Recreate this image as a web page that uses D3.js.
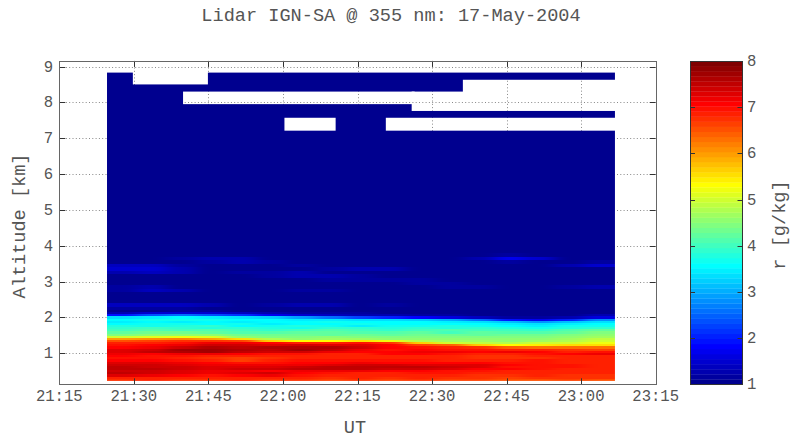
<!DOCTYPE html>
<html><head><meta charset="utf-8">
<script src="https://cdn.jsdelivr.net/npm/d3@7"></script>
<style>
html,body{margin:0;padding:0;background:#fff}
svg{display:block}
text{font-family:"Liberation Mono",monospace;fill:#555}
</style></head><body>
<svg id="chart" width="790" height="440"></svg>
<script>
const titleText = "Lidar IGN-SA @ 355 nm: 17-May-2004";
const xLabelText = "UT";
const yLabelText = "Altitude [km]";
const cLabelText = "r [g/kg]";
const timeTicks = [1275,1290,1305,1320,1335,1350,1365,1380,1395];
const timeTickLabels = ["21:15","21:30","21:45","22:00","22:15","22:30","22:45","23:00","23:15"];
const altTicks = [1,2,3,4,5,6,7,8,9];
const colorTicks = [1,2,3,4,5,6,7,8];
// column edges, minutes of the day
const timeEdges = [1284.6,1290.6,1296.6,1302.6,1308.6,1314.6,1320.6,1326.6,1332.6,1338.6,1344.6,1350.6,1356.6,1362.6,1368.6,1374.6,1380.6,1386.8];
// row edges, km, top to bottom
const altEdges = [8.83,4.2,4.1,4.0,3.9,3.8,3.7,3.6,3.5,3.4,3.3,3.2,3.1,3.0,2.9,2.8,2.7,2.6,2.5,2.4,2.3,2.21,2.15,2.09,2.03,1.97,1.91,1.85,1.79,1.73,1.67,1.61,1.55,1.49,1.43,1.37,1.31,1.25,1.19,1.13,1.07,1.01,0.95,0.89,0.83,0.77,0.71,0.65,0.59,0.53,0.47,0.41,0.35,0.29,0.23];
// mixing ratio g/kg, one row per altitude band, one column per time band
const mixingRatio = [
[1,1,1,1,1,1,1,1,1,1,1,1,1,1,1,1,1],
[1,1,1,1,1,1,1,1,1,1,1,1,1,1,1,1,1],
[1,1,1,1,1,1,1,1,1,1,1,1,1,1,1,1,1],
[1,1,1,1,1,1,1,1,1,1.1,1,1,1,1,1,1,1],
[1,1,1,1.1,1,1,1,1,1,1,1,1,1,1,1,1,1],
[1,1.1,1.1,1.1,1,1.1,1,1,1,1,1,1,1.1,1.2,1.1,1,1],
[1.1,1.1,1.2,1.3,1.3,1.1,1,1,1,1,1,1,1.3,1.7,1.5,1,1],
[1.1,1.1,1.1,1.2,1.3,1.2,1.1,1.1,1,1,1,1,1.1,1.2,1.1,1.1,1.2],
[1.4,1.4,1.2,1.1,1.1,1.1,1.2,1.1,1,1,1,1,1.1,1.1,1.1,1.3,1.5],
[1.5,1.5,1.3,1.1,1.1,1.1,1.1,1.2,1.3,1.3,1.1,1.1,1,1,1,1.1,1.1],
[1.3,1.4,1.3,1.1,1.2,1.2,1.3,1.1,1.1,1.1,1.1,1,1,1,1,1,1],
[1.1,1.1,1.1,1.1,1.1,1.2,1.3,1.3,1.2,1.1,1,1,1,1,1,1,1],
[1,1,1,1.1,1.1,1.1,1.1,1.2,1.2,1.2,1.2,1.1,1,1,1,1,1],
[1,1,1,1,1,1,1.1,1.1,1.1,1.1,1.2,1.2,1.1,1,1.1,1.1,1],
[1.2,1.3,1.1,1,1,1,1,1,1,1.1,1.1,1.2,1.2,1,1.1,1.2,1.3],
[1.2,1.4,1.3,1.1,1,1,1.2,1.2,1.1,1,1.1,1.1,1,1,1,1,1],
[1.1,1.1,1,1,1,1.1,1.1,1,1,1,1,1,1,1,1,1,1],
[1,1,1.1,1,1,1,1,1,1,1,1,1,1,1,1,1,1],
[1.1,1.1,1.1,1,1,1,1,1,1,1,1,1,1,1,1,1,1],
[1.4,1.4,1.4,1.3,1,1.2,1.3,1.3,1.1,1.2,1,1,1,1,1,1,1],
[1.2,1.2,1.2,1.1,1.1,1.1,1.1,1.1,1,1,1,1,1,1,1.1,1,1],
[1.1,1.1,1.2,1.2,1.1,1.1,1,1,1,1,1,1,1,1,1,1,1],
[1.3,1.5,1.5,1.5,1.4,1.3,1.2,1.2,1.2,1.1,1.1,1.1,1.0,1.0,1.0,1.0,1.1],
[1.9,2.4,2.6,2.4,2.1,1.7,1.5,1.4,1.3,1.3,1.2,1.2,1.1,1.1,1.1,1.1,1.3],
[3.3,3.5,3.6,3.5,3.4,3.2,2.9,2.6,2.3,2.0,1.8,1.6,1.4,1.2,1.2,1.3,1.6],
[3.6,3.7,3.7,3.7,3.6,3.6,3.5,3.5,3.4,3.3,3.2,3.0,2.6,1.9,1.7,2.0,2.8],
[3.5,3.6,3.5,3.6,3.5,3.6,3.6,3.7,3.6,3.6,3.6,3.5,3.4,3.1,2.8,3.1,3.4],
[3.6,3.7,3.7,3.6,3.7,3.5,3.6,3.6,3.7,3.6,3.6,3.6,3.6,3.5,3.4,3.5,3.6],
[3.8,3.7,3.8,3.9,3.6,3.7,3.8,3.7,3.5,3.7,3.7,3.8,3.7,3.6,3.5,3.7,3.7],
[3.9,4.0,3.9,3.8,3.9,3.8,3.7,3.9,3.9,3.8,3.9,3.8,3.9,3.8,3.7,3.8,3.9],
[4.0,4.1,4.0,4.1,4.0,3.9,4.0,4.1,4.0,3.9,4.0,4.1,4.0,4.0,3.9,4.1,4.2],
[4.2,4.3,4.3,4.2,4.1,4.1,4.2,4.2,4.1,4.1,4.2,4.0,4.2,4.1,4.1,4.2,4.4],
[4.4,4.5,4.6,4.5,4.3,4.3,4.3,4.2,4.3,4.2,4.3,4.3,4.2,4.3,4.3,4.4,4.6],
[5.0,5.1,5.2,5.1,4.6,4.4,4.4,4.5,4.4,4.4,4.4,4.4,4.4,4.4,4.4,4.6,4.7],
[6.0,6.1,6.2,6.0,5.5,4.8,4.6,4.7,4.7,4.6,4.5,4.5,4.5,4.5,4.6,4.7,4.9],
[6.5,6.6,6.7,6.7,6.6,5.6,5.3,5.3,5.5,5.2,4.8,4.7,4.7,4.6,4.7,4.8,5.0],
[6.8,6.9,7.0,7.2,7.2,7.1,6.8,6.8,7.0,6.7,5.6,5.0,4.9,4.8,5.0,5.0,5.2],
[7.0,7.1,7.2,7.4,7.4,7.3,7.4,7.3,7.3,7.1,6.6,6.4,5.7,5.3,5.4,5.5,5.5],
[7.1,7.2,7.4,7.6,7.5,7.6,7.6,7.6,7.4,7.1,7.0,6.9,6.7,6.4,6.3,6.3,6.3],
[7.3,7.4,7.7,7.7,7.6,7.5,7.7,7.5,7.2,7.0,7.1,7.0,7.0,6.9,6.8,6.7,6.6],
[7.3,7.5,7.6,7.7,7.5,7.4,7.4,7.2,7.1,7.1,7.2,7.2,7.1,7.2,7.1,6.9,7.0],
[7.2,7.1,7.2,7.2,7.1,7.0,7.0,6.9,6.9,7.1,7.1,7.0,6.9,6.9,7.0,7.1,7.2],
[7.1,7.0,7.0,6.9,6.8,6.8,6.9,6.9,6.8,6.8,6.9,6.8,6.7,6.7,6.8,6.8,6.8],
[7.0,7.0,6.9,6.7,6.6,6.7,6.8,6.9,6.9,6.9,6.8,6.8,6.7,6.7,6.7,6.8,6.8],
[7.1,7.1,7.0,6.8,6.6,6.8,7.0,7.0,7.0,7.0,7.0,6.9,6.9,6.8,7.0,6.9,6.9],
[7.3,7.3,7.2,7.1,7.0,7.0,7.1,7.1,7.2,7.1,7.1,7.1,7.1,7.0,7.0,6.9,6.9],
[7.4,7.4,7.3,7.2,7.2,7.2,7.2,7.3,7.4,7.4,7.3,7.3,7.3,7.1,7.0,7.0,6.9],
[7.5,7.4,7.4,7.3,7.3,7.3,7.4,7.5,7.5,7.5,7.5,7.4,7.3,7.0,7.0,7.0,6.9],
[7.5,7.5,7.4,7.3,7.4,7.4,7.5,7.5,7.5,7.4,7.4,7.3,7.1,7.1,7.0,6.9,6.9],
[7.4,7.4,7.3,7.2,7.2,7.1,7.2,7.2,7.2,7.1,7.1,7.0,7.0,6.9,6.9,6.9,6.8],
[7.5,7.4,7.3,7.2,7.3,7.4,7.1,7.0,6.9,6.9,7.0,7.0,6.9,6.8,6.8,6.9,6.8],
[7.3,7.2,7.1,7.0,7.1,7.2,7.0,6.8,6.8,6.8,6.9,6.8,6.7,6.7,6.8,6.7,6.7],
[6.9,6.9,6.9,6.8,6.9,6.9,6.8,6.7,6.8,6.7,6.8,6.7,6.7,6.6,6.7,6.7,6.7],
[6.7,6.8,6.7,6.7,6.8,6.7,6.7,6.6,6.7,6.6,6.7,6.6,6.6,6.5,6.5,6.6,6.5]
];
// missing-data boxes
const gapStart = [1289.8,1299.9,1320.3,1340.7,1345.9,1356.2];
const gapEnd   = [1304.9,1346.5,1330.6,1388,1388,1388];
const gapLow   = [8.50,7.95,7.21,7.21,7.76,8.2];
const gapHigh  = [8.95,8.30,7.57,7.57,8.30,8.63];

const svg = d3.select("#chart");
const x = d3.scaleLinear().domain([1275,1395]).range([59.3,655.7]);
const y = d3.scaleLinear().domain([1,9]).range([353.3,66.5]);
const yBottom = y(0.135), yTop = y(9.155);
const cy = d3.scaleLinear().domain([1,8]).range([384.3,61]);

const jetStops = d3.scaleLinear()
  .domain([0,7,23,39,55,63])
  .range(["rgb(0,0,143)","rgb(0,0,255)","rgb(0,255,255)","rgb(255,255,0)","rgb(255,0,0)","rgb(128,0,0)"])
  .interpolate(d3.interpolateRgb);
const jetLevels = d3.range(64).map(i => jetStops(i));
const color = d3.scaleQuantize().domain([1,8]).range(jetLevels);

const defs = svg.append("defs");
defs.append("filter").attr("id","soft")
  .attr("filterUnits","userSpaceOnUse").attr("x",0).attr("y",0).attr("width",790).attr("height",440)
  .attr("color-interpolation-filters","sRGB")
  .append("feGaussianBlur").attr("stdDeviation","8 0.45");
const mask = defs.append("mask").attr("id","dataMask")
  .attr("maskUnits","userSpaceOnUse").attr("x",0).attr("y",0).attr("width",790).attr("height",440);
mask.append("rect")
  .attr("x",x(timeEdges[0])).attr("width",x(timeEdges[timeEdges.length-1])-x(timeEdges[0]))
  .attr("y",y(altEdges[0])).attr("height",y(altEdges[altEdges.length-1])-y(altEdges[0]))
  .attr("fill","#fff");
mask.selectAll("rect.gap").data(d3.range(gapStart.length)).join("rect").attr("class","gap")
  .attr("x",i=>x(gapStart[i])).attr("width",i=>x(gapEnd[i])-x(gapStart[i]))
  .attr("y",i=>y(gapHigh[i])).attr("height",i=>y(gapLow[i])-y(gapHigh[i]))
  .attr("fill","#000");

// grid (sits under the data, shows in the gaps and margins)
const grid = svg.append("g").attr("stroke","#888").attr("stroke-width",1).attr("stroke-dasharray","1 2.3");
grid.selectAll("line.v").data(timeTicks.slice(1,-1)).join("line").attr("class","v")
  .attr("x1",d=>Math.round(x(d))+.5).attr("x2",d=>Math.round(x(d))+.5).attr("y1",yTop).attr("y2",yBottom);
grid.selectAll("line.h").data(altTicks).join("line").attr("class","h")
  .attr("x1",x(1275)).attr("x2",x(1395)).attr("y1",d=>Math.round(y(d))+.5).attr("y2",d=>Math.round(y(d))+.5);

// heat cells, outer cells extended past the mask so the softening does not fade at the edges
const heat = svg.append("g").attr("mask","url(#dataMask)").append("g").attr("filter","url(#soft)").attr("shape-rendering","crispEdges");
const nC = timeEdges.length-1, nR = altEdges.length-1;
const cells = [];
mixingRatio.forEach((row,r)=>row.forEach((v,c)=>cells.push({r,c,v})));
heat.selectAll("rect").data(cells).join("rect")
  .attr("x",d=>x(timeEdges[d.c])-(d.c===0?60:0))
  .attr("width",d=>x(timeEdges[d.c+1])-x(timeEdges[d.c])+(d.c===0?60:0)+(d.c===nC-1?60:0)+1)
  .attr("y",d=>y(altEdges[d.r])-(d.r===0?20:0))
  .attr("height",d=>y(altEdges[d.r+1])-y(altEdges[d.r])+(d.r===0?20:0)+(d.r===nR-1?20:0)+1)
  .attr("fill",d=>color(d.v));

// ticks and frame
const tk = svg.append("g").attr("stroke","#333").attr("stroke-width",1);
timeTicks.slice(1,-1).forEach(t=>{
  const px=Math.round(x(t))+.5;
  tk.append("line").attr("x1",px).attr("x2",px).attr("y1",yBottom).attr("y2",yBottom-6);
  tk.append("line").attr("x1",px).attr("x2",px).attr("y1",yTop).attr("y2",yTop+6);
});
altTicks.forEach(a=>{
  const py=Math.round(y(a))+.5;
  tk.append("line").attr("x1",x(1275)).attr("x2",x(1275)+6).attr("y1",py).attr("y2",py);
  tk.append("line").attr("x1",x(1395)).attr("x2",x(1395)-6).attr("y1",py).attr("y2",py);
});
svg.append("rect").attr("x",Math.round(x(1275))+.5).attr("y",Math.round(yTop)+.5)
  .attr("width",Math.round(x(1395))-Math.round(x(1275))).attr("height",Math.round(yBottom)-Math.round(yTop))
  .attr("fill","none").attr("stroke","#666");

// tick labels
svg.selectAll("text.xt").data(timeTicks).join("text").attr("class","xt")
  .attr("x",d=>x(d)).attr("y",401).attr("text-anchor","middle").attr("font-size",15.6)
  .text((d,i)=>timeTickLabels[i]);
svg.selectAll("text.yt").data(altTicks).join("text").attr("class","yt")
  .attr("x",53).attr("y",d=>y(d)+5).attr("text-anchor","end").attr("font-size",15.6).text(d=>d);

// titles
svg.append("text").attr("x",391).attr("y",21).attr("text-anchor","middle").attr("font-size",18.6).text(titleText);
svg.append("text").attr("x",355).attr("y",433).attr("text-anchor","middle").attr("font-size",18.6).text(xLabelText);
svg.append("text").attr("transform","translate(25,226) rotate(-90)").attr("text-anchor","middle").attr("font-size",18.6).text(yLabelText);

// colour bar
const barX0 = 690, barX1 = 742.5;
svg.append("g").selectAll("rect").data(jetLevels).join("rect")
  .attr("x",barX0).attr("width",barX1-barX0)
  .attr("y",(d,i)=>cy(1+7*(i+1)/64)).attr("height",cy(1)-cy(1+7/64)+.3)
  .attr("fill",d=>d);
svg.append("rect").attr("x",690.5).attr("y",61.5).attr("width",52).attr("height",323)
  .attr("fill","none").attr("stroke","#333");
const ctk = svg.append("g").attr("stroke","#333");
colorTicks.slice(1,-1).forEach(v=>{
  const py=Math.round(cy(v))+.5;
  ctk.append("line").attr("x1",690).attr("x2",695).attr("y1",py).attr("y2",py);
  ctk.append("line").attr("x1",742.5).attr("x2",737.5).attr("y1",py).attr("y2",py);
});
svg.selectAll("text.ct").data(colorTicks).join("text").attr("class","ct")
  .attr("x",747).attr("y",d=>cy(d)+5).attr("font-size",15.6).text(d=>d);
svg.append("text").attr("transform","translate(785,225) rotate(-90)").attr("text-anchor","middle").attr("font-size",18.6).text(cLabelText);
</script>
</body></html>
